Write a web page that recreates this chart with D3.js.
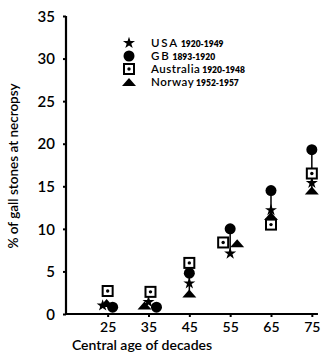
<!DOCTYPE html>
<html><head><meta charset="utf-8">
<script src="https://cdn.jsdelivr.net/npm/d3@7"></script>
<style>
body{margin:0;background:#fff;}
text{font-family:"Lato","DejaVu Sans",sans-serif;fill:#000;}
</style></head>
<body><svg id="c" width="325" height="355"></svg>
<script>
const ages = [25, 35, 45, 55, 65, 75];
const usa = [1.0, 1.4, 3.6, 7.1, 12.2, 15.4];
const gb = [0.8, 0.8, 4.8, 10.0, 14.5, 19.3];
const australia = [2.7, 2.6, 6.0, 8.4, 10.5, 16.5];
const norway = [1.3, 1.0, 2.4, 8.3, 11.5, 14.5];
const yTicks = [0, 5, 10, 15, 20, 25, 30, 35];
const seriesNames = ["USA", "GB", "Australia", "Norway"];
const seriesYears = ["1920-1949", "1893-1920", "1920-1948", "1952-1957"];
const seriesSymbols = ["star", "circle", "square", "triangle"];
const seriesValues = [usa, gb, australia, norway];

const svg = d3.select("#c");
const x = d3.scaleLinear().domain([14.8, 77]).range([66, 320]);
const y = d3.scaleLinear().domain([0, 35]).range([314, 16]);

// small horizontal offsets (px) per series per age to mimic the overlap in original
const dx = {
  star:     [-5, 0, 0, 0, 0, 0],
  circle:   [5, 8, 0, 0, 0, 0],
  square:   [0, 2, 0, -7, 0, 0],
  triangle: [-1, -4, 0, 7, 0, 0]
};

// axes
const g = svg.append("g");
g.append("line").attr("x1", 66).attr("x2", 66).attr("y1", y(35)).attr("y2", y(0)+1)
  .attr("stroke", "#000").attr("stroke-width", 2.2);
g.append("line").attr("x1", 65).attr("x2", x(76.5)).attr("y1", y(0)).attr("y2", y(0))
  .attr("stroke", "#000").attr("stroke-width", 2.2);

const yAxis = d3.axisLeft(y).tickValues(yTicks).tickSize(3).tickPadding(8);
const ya = svg.append("g").attr("transform", "translate(66,0)").call(yAxis);
ya.select(".domain").remove();
ya.selectAll("line").attr("stroke-width", 2);
ya.selectAll("text").style("font-size", "15px").style("font-weight", "600").attr("dy", "0.35em");

const xAxis = d3.axisBottom(x).tickValues(ages).tickSize(3).tickPadding(5);
const xa = svg.append("g").attr("transform", `translate(0,${y(0)})`).call(xAxis);
xa.select(".domain").remove();
xa.selectAll("line").attr("stroke-width", 2);
xa.selectAll("text").style("font-size", "14px").style("font-weight", "600");

svg.append("text").attr("x", 142).attr("y", 350).attr("text-anchor", "middle")
  .style("font-size", "14px").style("font-weight", "600").text("Central age of decades");
svg.append("text").attr("transform", "translate(18,166) rotate(-90)").attr("text-anchor", "middle")
  .style("font-size", "13.5px").style("font-weight", "600").text("% of gall stones at necropsy");

// range lines
ages.forEach((a, i) => {
  const vals = seriesValues.map(s => s[i]);
  if (i >= 2) {
    svg.append("line").attr("x1", x(a)).attr("x2", x(a))
      .attr("y1", y(d3.min(vals))).attr("y2", y(d3.max(vals)))
      .attr("stroke", "#000").attr("stroke-width", 1.5);
  }
});

function drawSymbol(sel, type, cx, cy) {
  if (type === "circle") {
    sel.append("circle").attr("cx", cx).attr("cy", cy).attr("r", 5.5).attr("fill", "#000");
  } else if (type === "square") {
    sel.append("rect").attr("x", cx-5).attr("y", cy-5).attr("width", 10).attr("height", 10)
      .attr("fill", "#fff").attr("stroke", "#000").attr("stroke-width", 2);
    sel.append("circle").attr("cx", cx).attr("cy", cy).attr("r", 1.7).attr("fill", "#000");
  } else if (type === "triangle") {
    sel.append("path").attr("d", `M${cx-7},${cy+4}L${cx},${cy-4}L${cx+7},${cy+4}Z`).attr("fill", "#000");
  } else if (type === "star") {
    sel.append("path").attr("d", d3.symbol(d3.symbolStar, 45)()).attr("transform", `translate(${cx},${cy})`).attr("fill", "#000");
  }
}

// draw order: triangle, star, circle, square on top
const order = [3, 0, 1, 2];
order.forEach(si => {
  const type = seriesSymbols[si];
  seriesValues[si].forEach((v, i) => {
    drawSymbol(svg, type, x(ages[i]) + dx[type][i], y(v));
  });
});

// legend
const leg = svg.append("g");
const legY = [43, 56, 69, 82];
seriesNames.forEach((n, i) => {
  drawSymbol(leg, seriesSymbols[i], 129, legY[i]);
  const t = leg.append("text").attr("x", 151).attr("y", legY[i] + 4);
  t.append("tspan").text(n).style("font-size", "11.5px").style("font-weight", "600")
    .style("letter-spacing", n.length <= 3 ? "1.8px" : "0.5px");
  t.append("tspan").text(" " + seriesYears[i]).style("font-size", "8.5px").style("font-weight", "800");
});
</script></body></html>
